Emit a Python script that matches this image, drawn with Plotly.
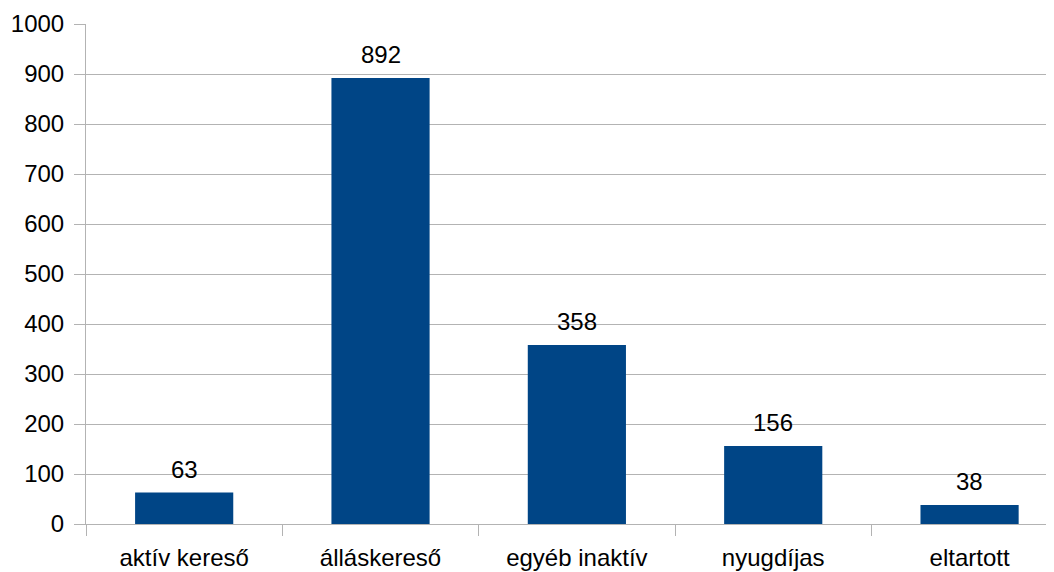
import plotly.graph_objects as go

categories = ["aktív kereső", "álláskereső", "egyéb inaktív", "nyugdíjas", "eltartott"]
values = [63, 892, 358, 156, 38]
y_ticks = list(range(0, 1001, 100))

GRID = "#b3b3b3"
BAR = "#004586"
FONT = "Liberation Sans, Arial, sans-serif"

fig = go.Figure()
fig.add_trace(go.Bar(x=categories, y=values, marker_color=BAR, marker_line_width=0,
                     hoverinfo="skip"))

for c, v in zip(categories, values):
    fig.add_annotation(x=c, y=v, text=str(v), showarrow=False, yanchor="bottom",
                       yshift=8, font=dict(size=24, color="#000000", family=FONT))

# page body has an 8px margin, so the figure is sized/offset to compensate
fig.update_layout(
    width=1046, height=564,
    margin=dict(l=78, r=0, t=16, b=48),
    paper_bgcolor="white", plot_bgcolor="white",
    showlegend=False, bargap=0.5,
    font=dict(family=FONT, size=24, color="#000000"),
)
fig.update_xaxes(
    type="category", range=[-0.5, 4.43], tickson="boundaries",
    ticks="outside", ticklen=11, tickcolor=GRID, tickwidth=1,
    showline=True, linecolor=GRID, linewidth=1, showgrid=False,
    tickfont=dict(size=24), ticklabelstandoff=12, fixedrange=True,
)
fig.update_yaxes(
    range=[0, 1000], tickvals=y_ticks, ticks="outside", ticklen=11,
    tickcolor=GRID, tickwidth=1, showline=True, linecolor=GRID, linewidth=1,
    showgrid=True, gridcolor=GRID, gridwidth=1, zeroline=False,
    tickfont=dict(size=24), ticklabelstandoff=5, fixedrange=True,
)

fig.write_html("out.html")
